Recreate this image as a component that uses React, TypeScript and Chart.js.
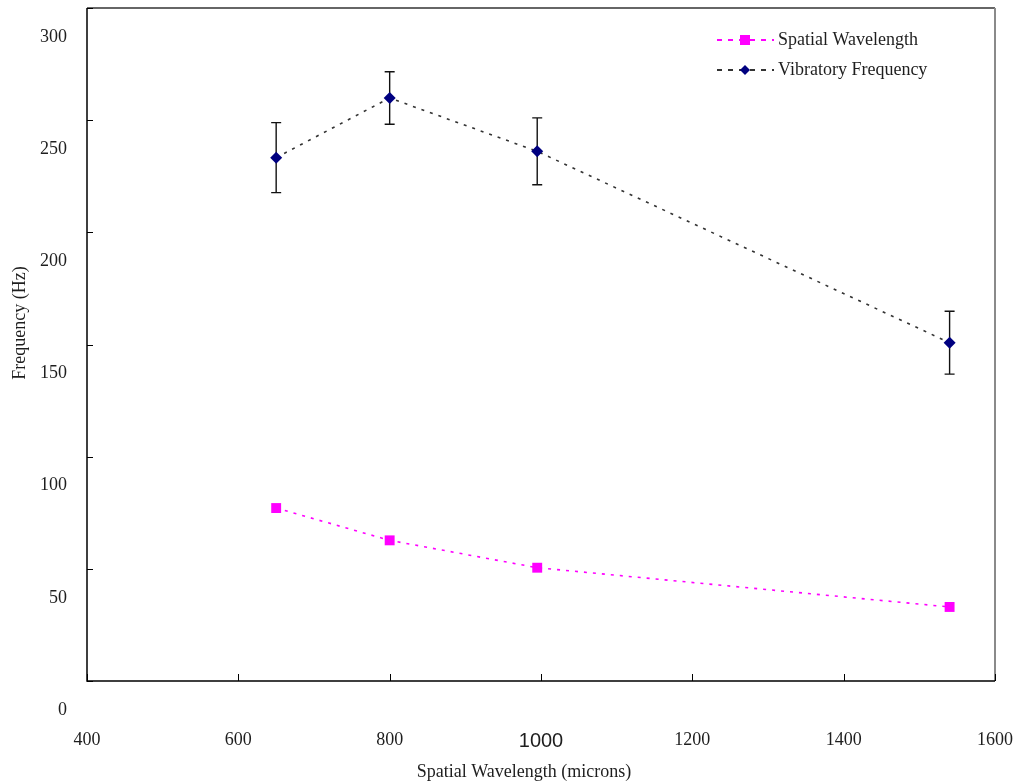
import React, { useEffect, useRef } from "react";
import { Chart, registerables } from "chart.js";

Chart.register(...registerables);

const xValues = [650, 800, 995, 1540];
const spatialValues = [77.1, 62.7, 50.5, 33.0];
const vibratoryValues = [233.3, 259.9, 236.1, 150.8];
const vibratoryErrors = [15.6, 11.7, 14.9, 14.0];
const xTickValues = [400, 600, 800, 1000, 1200, 1400, 1600];
const yTickValues = [0, 50, 100, 150, 200, 250, 300];
const seriesNames = ["Spatial Wavelength", "Vibratory Frequency"];
const xTitle = "Spatial Wavelength (microns)";
const yTitle = "Frequency (Hz)";

const SERIF = "'Liberation Serif', 'Times New Roman', serif";
const SANS = "'Liberation Sans', Arial, sans-serif";
const TEXT = "#1e1e1e";

const errorBarPlugin = {
  id: "errorBars",
  beforeDatasetsDraw(chart: any) {
    const ctx = chart.ctx;
    const xs = chart.scales.x;
    const ys = chart.scales.y;
    ctx.save();
    ctx.strokeStyle = "#111";
    ctx.lineWidth = 1.4;
    xValues.forEach((xv, i) => {
      const px = xs.getPixelForValue(xv);
      const top = ys.getPixelForValue(vibratoryValues[i] + vibratoryErrors[i]);
      const bot = ys.getPixelForValue(vibratoryValues[i] - vibratoryErrors[i]);
      ctx.beginPath();
      ctx.moveTo(px, top);
      ctx.lineTo(px, bot);
      ctx.moveTo(px - 5, top);
      ctx.lineTo(px + 5, top);
      ctx.moveTo(px - 5, bot);
      ctx.lineTo(px + 5, bot);
      ctx.stroke();
    });
    ctx.restore();
  },
};

const framePlugin = {
  id: "frame",
  afterDraw(chart: any) {
    const ctx = chart.ctx;
    const { left, right, top, bottom } = chart.chartArea;
    const xs = chart.scales.x;
    const ys = chart.scales.y;
    ctx.save();
    ctx.lineWidth = 1.5;
    ctx.strokeStyle = "#333";
    ctx.beginPath();
    ctx.moveTo(left, top);
    ctx.lineTo(right, top);
    ctx.stroke();
    ctx.strokeStyle = "#8a8a8a";
    ctx.lineWidth = 2;
    ctx.beginPath();
    ctx.moveTo(right, top);
    ctx.lineTo(right, bottom);
    ctx.stroke();
    ctx.strokeStyle = "#000";
    ctx.lineWidth = 1.5;
    ctx.beginPath();
    ctx.moveTo(left, top);
    ctx.lineTo(left, bottom);
    ctx.lineTo(right, bottom);
    ctx.stroke();
    ctx.lineWidth = 1;
    ctx.strokeStyle = "#000";
    ctx.beginPath();
    yTickValues.forEach((v) => {
      const py = Math.round(ys.getPixelForValue(v)) + 0.5;
      ctx.moveTo(left, py);
      ctx.lineTo(left + 6, py);
    });
    xTickValues.forEach((v) => {
      const px = Math.round(xs.getPixelForValue(v)) + 0.5;
      ctx.moveTo(px, bottom);
      ctx.lineTo(px, bottom - 7);
    });
    ctx.stroke();

    ctx.fillStyle = TEXT;
    ctx.font = `18px ${SERIF}`;
    ctx.textAlign = "center";
    ctx.textBaseline = "middle";
    ctx.fillText(xTitle, 524, 772);
    ctx.save();
    ctx.translate(20, 323);
    ctx.rotate(-Math.PI / 2);
    ctx.fillText(yTitle, 0, 0);
    ctx.restore();

    const items = [
      { name: seriesNames[0], color: "#ff00ff", style: "rect", y: 40 },
      { name: seriesNames[1], color: "#000080", style: "rectRot", y: 70 },
    ];
    const lineColors = ["#ff00ff", "#333333"];
    items.forEach((it, i) => {
      ctx.save();
      ctx.strokeStyle = lineColors[i];
      ctx.lineWidth = 2;
      ctx.setLineDash([5, 6]);
      ctx.beginPath();
      ctx.moveTo(717, it.y);
      ctx.lineTo(774, it.y);
      ctx.stroke();
      ctx.restore();
      ctx.save();
      ctx.fillStyle = it.color;
      ctx.beginPath();
      if (it.style === "rect") {
        ctx.rect(745 - 5, it.y - 5, 10, 10);
      } else {
        ctx.moveTo(745, it.y - 5);
        ctx.lineTo(750, it.y);
        ctx.lineTo(745, it.y + 5);
        ctx.lineTo(740, it.y);
        ctx.closePath();
      }
      ctx.fill();
      ctx.restore();
      ctx.fillStyle = TEXT;
      ctx.textAlign = "left";
      ctx.textBaseline = "middle";
      ctx.font = `18px ${SERIF}`;
      ctx.fillText(it.name, 778, it.y);
    });
    ctx.restore();
  },
};

export default function App() {
  const ref = useRef<HTMLCanvasElement | null>(null);
  useEffect(() => {
    if (!ref.current) return;
    const chart = new Chart(ref.current, {
      type: "line",
      data: {
        datasets: [
          {
            label: seriesNames[0],
            data: xValues.map((x, i) => ({ x, y: spatialValues[i] })),
            borderColor: "#ff00ff",
            backgroundColor: "#ff00ff",
            borderWidth: 1.6,
            borderDash: [3, 6],
            pointStyle: "rect",
            pointRadius: 7,
            pointBorderWidth: 0,
            pointBackgroundColor: "#ff00ff",
            tension: 0,
          },
          {
            label: seriesNames[1],
            data: xValues.map((x, i) => ({ x, y: vibratoryValues[i] })),
            borderColor: "#333333",
            backgroundColor: "#000080",
            borderWidth: 1.6,
            borderDash: [3, 6],
            pointStyle: "rectRot",
            pointRadius: 6,
            pointBorderWidth: 0,
            pointBackgroundColor: "#000080",
            tension: 0,
          },
        ],
      },
      options: {
        animation: false,
        responsive: false,
        layout: { padding: { top: 8, right: 24, left: 0, bottom: 0 } },
        plugins: { legend: { display: false }, tooltip: { enabled: false } },
        scales: {
          x: {
            type: "linear",
            min: 400,
            max: 1600,
            afterBuildTicks: (s: any) => {
              s.ticks = xTickValues.map((v) => ({ value: v }));
            },
            grid: { display: false, drawTicks: false },
            border: { display: false },
            ticks: {
              padding: 48,
              maxRotation: 0,
              autoSkip: false,
              color: TEXT,
              callback: (v: any) => String(v),
              font: (c: any) =>
                c.tick && c.tick.value === 1000
                  ? { family: SANS, size: 20 }
                  : { family: SERIF, size: 18 },
            },
            afterFit: (s: any) => {
              s.height = 103;
              s.paddingLeft = 0;
              s.paddingRight = 0;
            },
          },
          y: {
            type: "linear",
            min: 0,
            max: 300,
            afterBuildTicks: (s: any) => {
              s.ticks = yTickValues.map((v) => ({ value: v }));
            },
            grid: { display: false, drawTicks: false },
            border: { display: false },
            ticks: {
              padding: 20,
              labelOffset: 29,
              color: TEXT,
              callback: (v: any) => String(v),
              font: { family: SERIF, size: 18 },
            },
            afterFit: (s: any) => {
              s.width = 87;
              s.paddingTop = 0;
              s.paddingBottom = 0;
            },
          },
        },
      },
      plugins: [errorBarPlugin, framePlugin],
    });
    return () => chart.destroy();
  }, []);
  return (
    <div style={{ position: "absolute", left: 0, top: 0, width: 1019, height: 784, background: "#fff" }}>
      <canvas ref={ref} width={1019} height={784} />
    </div>
  );
}
